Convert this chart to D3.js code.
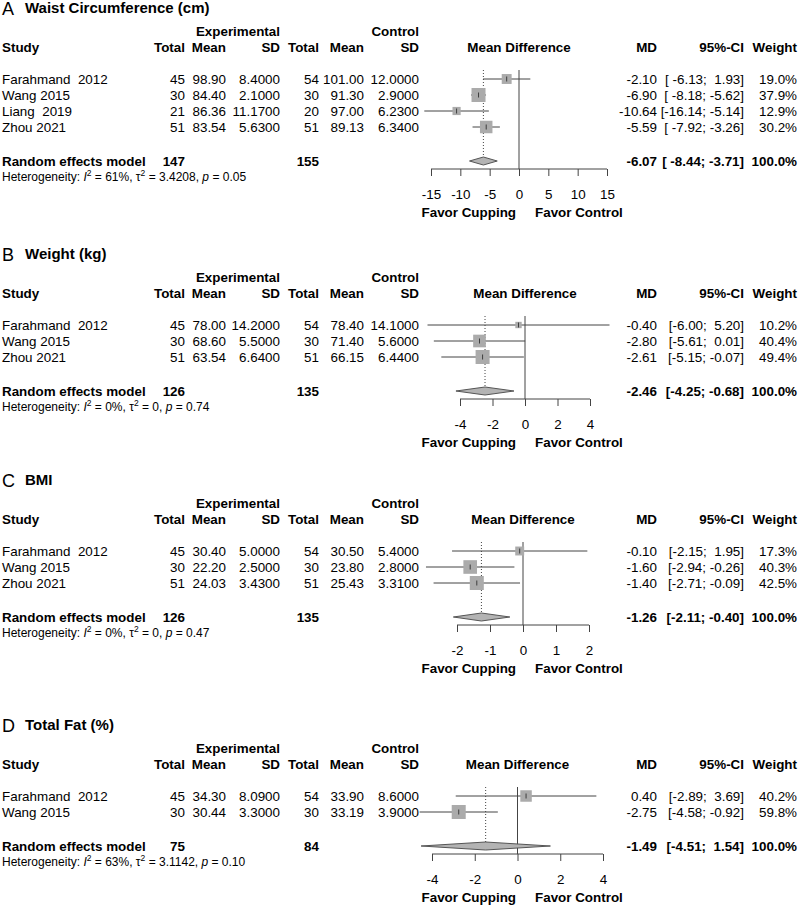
<!DOCTYPE html>
<html>
<head>
<meta charset="utf-8">
<script src="https://cdn.jsdelivr.net/npm/d3@7"></script>
<style>
  body { margin: 0; background: #fff; }
  text { font-family: "Liberation Sans", Arial, Helvetica, sans-serif; white-space: pre; fill: #000; }
</style>
</head>
<body>
<svg id="chart"></svg>
<script>
// ---- data ----
// A  Waist circumference
var waistStudy   = ['Farahmand  2012', 'Wang 2015', 'Liang  2019', 'Zhou 2021'];
var waistExpN    = [45, 30, 21, 51];
var waistExpMean = [98.90, 84.40, 86.36, 83.54];
var waistExpSD   = [8.4, 2.1, 11.17, 5.63];
var waistCtlN    = [54, 30, 20, 51];
var waistCtlMean = [101.00, 91.30, 97.00, 89.13];
var waistCtlSD   = [12.0, 2.9, 6.23, 6.34];
var waistMD      = [-2.10, -6.90, -10.64, -5.59];
var waistLo      = [-6.13, -8.18, -16.14, -7.92];
var waistHi      = [1.93, -5.62, -5.14, -3.26];
var waistW       = [19.0, 37.9, 12.9, 30.2];
var waistPooled  = [-6.07, -8.44, -3.71];
var waistTotals  = [147, 155];
var waistHet     = ['61%', '3.4208', '0.05'];
var waistTicks   = [-15, -10, -5, 0, 5, 10, 15];

// B  Weight
var weightStudy   = ['Farahmand  2012', 'Wang 2015', 'Zhou 2021'];
var weightExpN    = [45, 30, 51];
var weightExpMean = [78.00, 68.60, 63.54];
var weightExpSD   = [14.2, 5.5, 6.64];
var weightCtlN    = [54, 30, 51];
var weightCtlMean = [78.40, 71.40, 66.15];
var weightCtlSD   = [14.1, 5.6, 6.44];
var weightMD      = [-0.40, -2.80, -2.61];
var weightLo      = [-6.00, -5.61, -5.15];
var weightHi      = [5.20, 0.01, -0.07];
var weightW       = [10.2, 40.4, 49.4];
var weightPooled  = [-2.46, -4.25, -0.68];
var weightTotals  = [126, 135];
var weightHet     = ['0%', '0', '0.74'];
var weightTicks   = [-4, -2, 0, 2, 4];

// C  BMI
var bmiStudy   = ['Farahmand  2012', 'Wang 2015', 'Zhou 2021'];
var bmiExpN    = [45, 30, 51];
var bmiExpMean = [30.40, 22.20, 24.03];
var bmiExpSD   = [5.0, 2.5, 3.43];
var bmiCtlN    = [54, 30, 51];
var bmiCtlMean = [30.50, 23.80, 25.43];
var bmiCtlSD   = [5.4, 2.8, 3.31];
var bmiMD      = [-0.10, -1.60, -1.40];
var bmiLo      = [-2.15, -2.94, -2.71];
var bmiHi      = [1.95, -0.26, -0.09];
var bmiW       = [17.3, 40.3, 42.5];
var bmiPooled  = [-1.26, -2.11, -0.40];
var bmiTotals  = [126, 135];
var bmiHet     = ['0%', '0', '0.47'];
var bmiTicks   = [-2, -1, 0, 1, 2];

// D  Total fat
var fatStudy   = ['Farahmand  2012', 'Wang 2015'];
var fatExpN    = [45, 30];
var fatExpMean = [34.30, 30.44];
var fatExpSD   = [8.09, 3.3];
var fatCtlN    = [54, 30];
var fatCtlMean = [33.90, 33.19];
var fatCtlSD   = [8.6, 3.9];
var fatMD      = [0.40, -2.75];
var fatLo      = [-2.89, -4.58];
var fatHi      = [3.69, -0.92];
var fatW       = [40.2, 59.8];
var fatPooled  = [-1.49, -4.51, 1.54];
var fatTotals  = [75, 84];
var fatHet     = ['63%', '3.1142', '0.10'];
var fatTicks   = [-4, -2, 0, 2, 4];

var panels = [
  {letter: 'A', title: 'Waist Circumference (cm)', study: waistStudy, en: waistExpN, em: waistExpMean, es: waistExpSD,
   cn: waistCtlN, cm: waistCtlMean, cs: waistCtlSD, md: waistMD, lo: waistLo, hi: waistHi, w: waistW,
   pooled: waistPooled, totals: waistTotals, het: waistHet, ticks: waistTicks},
  {letter: 'B', title: 'Weight (kg)', study: weightStudy, en: weightExpN, em: weightExpMean, es: weightExpSD,
   cn: weightCtlN, cm: weightCtlMean, cs: weightCtlSD, md: weightMD, lo: weightLo, hi: weightHi, w: weightW,
   pooled: weightPooled, totals: weightTotals, het: weightHet, ticks: weightTicks},
  {letter: 'C', title: 'BMI', study: bmiStudy, en: bmiExpN, em: bmiExpMean, es: bmiExpSD,
   cn: bmiCtlN, cm: bmiCtlMean, cs: bmiCtlSD, md: bmiMD, lo: bmiLo, hi: bmiHi, w: bmiW,
   pooled: bmiPooled, totals: bmiTotals, het: bmiHet, ticks: bmiTicks},
  {letter: 'D', title: 'Total Fat (%)', study: fatStudy, en: fatExpN, em: fatExpMean, es: fatExpSD,
   cn: fatCtlN, cm: fatCtlMean, cs: fatCtlSD, md: fatMD, lo: fatLo, hi: fatHi, w: fatW,
   pooled: fatPooled, totals: fatTotals, het: fatHet, ticks: fatTicks}
];

// ---- layout ----
// y0 = centre of the "Study" header line; range = pixel extent of the x axis
var layout = [
  {y0: 47,  range: [431, 607]},
  {y0: 293, range: [460, 590]},
  {y0: 519, range: [457, 589]},
  {y0: 764, range: [432, 603]}
];
var col = {total: 185, mean: 226, sd: 280, ctotal: 319, cmean: 364, csd: 419, md: 657, ci: 744, wt: 797};
var fs = 13.4;
var rowStep = 16;
var maxBox = 14;

var svg = d3.select('#chart')
    .attr('width', 800)
    .attr('height', 906);

function label(g, x, y, s, anchor, bold, size) {
    return g.append('text')
        .attr('x', x)
        .attr('y', y + (size || fs) * 0.37)
        .attr('text-anchor', anchor || 'start')
        .attr('font-size', (size || fs) + 'px')
        .attr('font-weight', bold ? 'bold' : 'normal')
        .text(s);
}

function pad(arr, s) {
    var n = d3.max(arr, function (d) { return d.length; });
    return ' '.repeat(n - s.length) + s;
}

function drawPanel(p, lay) {
    var g = svg.append('g');
    var y0 = lay.y0;
    var x = d3.scaleLinear()
        .domain([p.ticks[0], p.ticks[p.ticks.length - 1]])
        .range(lay.range);
    var x0 = x(0);

    // title
    g.append('text')
        .attr('x', 2).attr('y', y0 - 32)
        .attr('font-size', '18px')
        .text(p.letter);
    label(g, 25, y0 - 40, p.title, 'start', true, 15);

    // headers
    label(g, col.sd, y0 - 16, 'Experimental', 'end', true);
    label(g, col.csd, y0 - 16, 'Control', 'end', true);
    label(g, 2, y0, 'Study', 'start', true);
    label(g, col.total, y0, 'Total', 'end', true);
    label(g, col.mean, y0, 'Mean', 'end', true);
    label(g, col.sd, y0, 'SD', 'end', true);
    label(g, col.ctotal, y0, 'Total', 'end', true);
    label(g, col.cmean, y0, 'Mean', 'end', true);
    label(g, col.csd, y0, 'SD', 'end', true);
    label(g, x0, y0, 'Mean Difference', 'middle', true);
    label(g, col.md, y0, 'MD', 'end', true);
    label(g, col.ci, y0, '95%-CI', 'end', true);
    label(g, col.wt, y0, 'Weight', 'end', true);

    var rows = d3.range(p.study.length).map(function (i) { return y0 + 32 + i * rowStep; });
    var yPool = rows[rows.length - 1] + 34;
    var yAxis = yPool + 8;

    var loStr = p.lo.concat([p.pooled[1]]).map(function (d) { return d.toFixed(2); });
    var hiStr = p.hi.concat([p.pooled[2]]).map(function (d) { return d.toFixed(2); });
    function ciText(i) {
        return '[' + pad(loStr, loStr[i]) + '; ' + pad(hiStr, hiStr[i]) + ']';
    }

    // study rows: text
    p.study.forEach(function (s, i) {
        var y = rows[i];
        label(g, 2, y, s);
        label(g, col.total, y, String(p.en[i]), 'end');
        label(g, col.mean, y, p.em[i].toFixed(2), 'end');
        label(g, col.sd, y, p.es[i].toFixed(4), 'end');
        label(g, col.ctotal, y, String(p.cn[i]), 'end');
        label(g, col.cmean, y, p.cm[i].toFixed(2), 'end');
        label(g, col.csd, y, p.cs[i].toFixed(4), 'end');
        label(g, col.md, y, p.md[i].toFixed(2), 'end');
        label(g, col.ci, y, ciText(i), 'end');
        label(g, col.wt, y, p.w[i].toFixed(1) + '%', 'end');
    });

    // pooled row
    label(g, 2, yPool, 'Random effects model', 'start', true);
    label(g, col.total, yPool, String(p.totals[0]), 'end', true);
    label(g, col.ctotal, yPool, String(p.totals[1]), 'end', true);
    label(g, col.md, yPool, p.pooled[0].toFixed(2), 'end', true);
    label(g, col.ci, yPool, ciText(p.study.length), 'end', true);
    label(g, col.wt, yPool, '100.0%', 'end', true);

    // heterogeneity
    var hs = 12;
    var het = g.append('text')
        .attr('x', 2).attr('y', yPool + 16 + hs * 0.37)
        .attr('font-size', hs + 'px');
    het.append('tspan').text('Heterogeneity: ');
    het.append('tspan').attr('font-style', 'italic').text('I');
    het.append('tspan').attr('dy', -5).attr('font-size', '8.5px').text('2');
    het.append('tspan').attr('dy', 5).text(' = ' + p.het[0] + ', \u03c4');
    het.append('tspan').attr('dy', -5).attr('font-size', '8.5px').text('2');
    het.append('tspan').attr('dy', 5).text(' = ' + p.het[1] + ', ');
    het.append('tspan').attr('font-style', 'italic').text('p');
    het.append('tspan').text(' = ' + p.het[2]);

    // reference lines
    var top = rows[0] - 9;
    g.append('line')
        .attr('x1', x0).attr('x2', x0)
        .attr('y1', top).attr('y2', yAxis)
        .attr('stroke', '#444').attr('stroke-width', 1);
    g.append('line')
        .attr('x1', x(p.pooled[0])).attr('x2', x(p.pooled[0]))
        .attr('y1', top).attr('y2', yPool - 4)
        .attr('stroke', '#444').attr('stroke-width', 1)
        .attr('stroke-dasharray', '1,2');

    // CIs and boxes
    var wmax = d3.max(p.w);
    var box = d3.scaleSqrt().domain([0, wmax]).range([0, maxBox]);
    var idx = d3.range(p.study.length);
    g.selectAll('line.ci')
        .data(idx).enter().append('line')
        .attr('class', 'ci')
        .attr('x1', function (i) { return x(p.lo[i]); })
        .attr('x2', function (i) { return x(p.hi[i]); })
        .attr('y1', function (i) { return rows[i]; })
        .attr('y2', function (i) { return rows[i]; })
        .attr('stroke', '#444').attr('stroke-width', 1);
    g.selectAll('rect.box')
        .data(idx).enter().append('rect')
        .attr('class', 'box')
        .attr('x', function (i) { return x(p.md[i]) - box(p.w[i]) / 2; })
        .attr('y', function (i) { return rows[i] - box(p.w[i]) / 2; })
        .attr('width', function (i) { return box(p.w[i]); })
        .attr('height', function (i) { return box(p.w[i]); })
        .attr('fill', '#ababab');
    g.selectAll('line.est')
        .data(idx).enter().append('line')
        .attr('class', 'est')
        .attr('x1', function (i) { return x(p.md[i]); })
        .attr('x2', function (i) { return x(p.md[i]); })
        .attr('y1', function (i) { return rows[i] - 2.5; })
        .attr('y2', function (i) { return rows[i] + 2.5; })
        .attr('stroke', '#222').attr('stroke-width', 0.8);

    // diamond
    var dh = 4;
    g.append('path')
        .attr('d', 'M' + x(p.pooled[1]) + ',' + yPool +
            'L' + x(p.pooled[0]) + ',' + (yPool - dh) +
            'L' + x(p.pooled[2]) + ',' + yPool +
            'L' + x(p.pooled[0]) + ',' + (yPool + dh) + 'Z')
        .attr('fill', '#b3b3b3')
        .attr('stroke', '#555').attr('stroke-width', 1);

    // axis
    var ax = g.append('g')
        .attr('transform', 'translate(0,' + yAxis + ')')
        .call(d3.axisBottom(x).tickValues(p.ticks).tickSize(7).tickSizeOuter(0).tickPadding(13)
            .tickFormat(function (d) { return String(d); }));
    ax.selectAll('path, line').attr('stroke', '#444');
    ax.selectAll('text')
        .attr('font-size', fs + 'px')
        .attr('font-family', '"Liberation Sans", Arial, Helvetica, sans-serif')
        .attr('fill', '#000');
    ax.select('.domain').attr('d', 'M' + lay.range[0] + ',0H' + lay.range[1]);

    label(g, 516, yAxis + 43, 'Favor Cupping', 'end', true);
    label(g, 535, yAxis + 43, 'Favor Control', 'start', true);
}

panels.forEach(function (p, i) {
    drawPanel(p, layout[i]);
});
</script>
</body>
</html>
